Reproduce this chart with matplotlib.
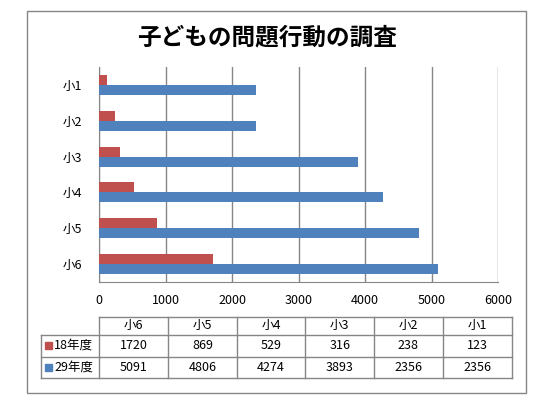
import matplotlib.pyplot as plt
import matplotlib.patches as mpatches
import numpy as np

plt.rcParams['font.family'] = ['Noto Sans CJK JP', 'DejaVu Sans']

# data
grades = ['小6', '小5', '小4', '小3', '小2', '小1']
series_names = ['18年度', '29年度']
h18 = [1720, 869, 529, 316, 238, 123]
h29 = [5091, 4806, 4274, 3893, 2356, 2356]
colors = ['#C0504D', '#4F81BD']
title = '子どもの問題行動の調査'

W, H = 554, 404
fig = plt.figure(figsize=(W / 100, H / 100), dpi=100)

# plot area (pixel box)
px_l, px_r, px_t, px_b = 99, 498, 67, 282
ax = fig.add_axes([px_l / W, 1 - px_b / H, (px_r - px_l) / W, (px_b - px_t) / H])

y = np.arange(len(grades))
bh = 0.28
ax.barh(y + bh / 2, h18, height=bh, color=colors[0], zorder=3)
ax.barh(y - bh / 2, h29, height=bh, color=colors[1], zorder=3)

ax.set_xlim(0, 6000)
ax.set_ylim(-0.5, len(grades) - 0.5)
ax.set_xticks(range(0, 6001, 1000))
ax.set_yticks(y)
ax.set_yticklabels(grades)
ax.xaxis.grid(True, color='#868686', lw=1, zorder=0)
ax.tick_params(length=0, labelsize=9)
ax.tick_params(axis='x', pad=9)
ax.tick_params(axis='y', pad=12)
for s in ['top', 'right']:
    ax.spines[s].set_visible(False)
for s in ['left', 'bottom']:
    ax.spines[s].set_color('#868686')

# overlay in pixel coordinates for title, frame and data table
ov = fig.add_axes([0, 0, 1, 1], facecolor='none')
ov.set_xlim(0, W)
ov.set_ylim(H, 0)
ov.axis('off')

ov.add_patch(mpatches.Rectangle((26.5, 10.5), 499.5, 382.5, fill=False,
                                ec='#868686', lw=1))
ov.text(267, 37, title, ha='center', va='center', fontsize=17, fontweight='bold')

# table
cx = [40.7, 99.3, 168, 236.7, 305.3, 374, 442.7, 511.5]
ry = [317, 334.5, 356.5, 378]
lc = '#868686'
ov.plot([cx[1], cx[-1]], [ry[0], ry[0]], color=lc, lw=1)
for r in ry[1:]:
    ov.plot([cx[0], cx[-1]], [r, r], color=lc, lw=1)
ov.plot([cx[0], cx[0]], [ry[1], ry[-1]], color=lc, lw=1)
for c in cx[1:]:
    ov.plot([c, c], [ry[0], ry[-1]], color=lc, lw=1)

for j, g in enumerate(grades):
    xm = (cx[j + 1] + cx[j + 2]) / 2
    ov.text(xm, (ry[0] + ry[1]) / 2, g, ha='center', va='center', fontsize=9)
    for k, vals in enumerate([h18, h29]):
        ov.text(xm, (ry[k + 1] + ry[k + 2]) / 2, str(vals[j]), ha='center',
                va='center', fontsize=9)

for k, name in enumerate(series_names):
    ym = (ry[k + 1] + ry[k + 2]) / 2
    ov.add_patch(mpatches.Rectangle((45, ym - 3.5), 7, 7, color=colors[k]))
    ov.text(54, ym, name, ha='left', va='center', fontsize=9)

fig.savefig('out.png', dpi=100)
